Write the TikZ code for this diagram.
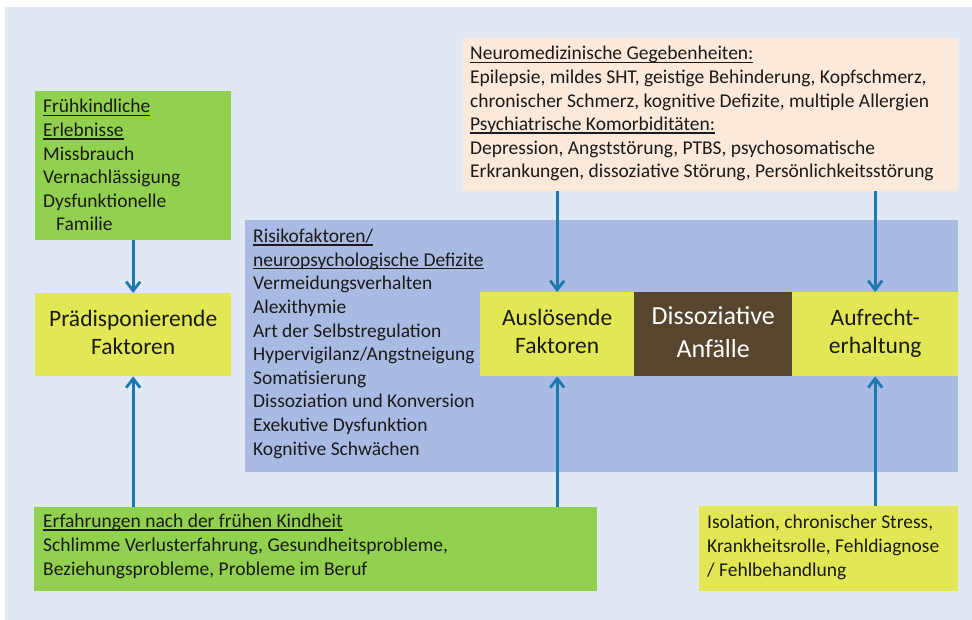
\documentclass[tikz,border=0pt]{standalone}
\usepackage{fontspec}
\setmainfont{Carlito}
\usetikzlibrary{arrows.meta}
\definecolor{bgblue}{HTML}{DFE8F3}
\definecolor{riskblue}{HTML}{AABBE3}
\definecolor{boxgreen}{HTML}{92D050}
\definecolor{boxyellow}{HTML}{E4E755}
\definecolor{boxpeach}{HTML}{FDE9DA}
\definecolor{boxbrown}{HTML}{57452D}
\definecolor{arrblue}{HTML}{1C7AB0}
\definecolor{txtgray}{HTML}{1A1A1A}
\newcommand{\uln}[1]{{\setbox0\hbox{#1}\rlap{\rule[-3.2pt]{\wd0}{1.6pt}}\box0}}
\tikzset{
	box/.style={inner sep=0pt, anchor=north west, text=txtgray},
	% anchored at the baseline of the last line
	txt/.style={inner sep=0pt, anchor=base west, align=left, text=txtgray, font=\fontsize{19.5}{23.6}\selectfont},
	big/.style={align=center, font=\fontsize{23.5}{28}\selectfont},
	arr/.style={draw=arrblue, line width=2.8pt, -{Straight Barb[length=9pt,width=14pt]}}
}

\begin{document}
\begin{tikzpicture}[x=1pt, y=-1pt]
		%%%%% START %%%%%
		\useasboundingbox (0,0) rectangle (972,620);
		\fill[bgblue] (5,7) rectangle (972,620);
		
		\node[box, fill=riskblue, minimum width=713pt, minimum height=252pt] (risk) at (245,220) {};
		\node[txt] (risktxt) at (253,455) {\uln{Risikofaktoren/}\\\uln{neuropsychologische Defizite}\\Vermeidungsverhalten\\Alexithymie\\Art der Selbstregulation\\Hypervigilanz/Angstneigung\\Somatisierung\\Dissoziation und Konversion\\Exekutive Dysfunktion\\Kognitive Schwächen};
		
		\node[box, fill=boxgreen, minimum width=196pt, minimum height=149pt] (frueh) at (35,91) {};
		\node[txt] (fruehtxt) at (43,231) {\uln{Frühkindliche}\\\uln{Erlebnisse}\\Missbrauch\\Vernachlässigung\\Dysfunktionelle\\\hspace*{13pt}Familie};
		
		\node[box, fill=boxpeach, minimum width=495pt, minimum height=153pt] (neuro) at (463,38) {};
		\node[txt] (neurotxt) at (470,178) {\uln{Neuromedizinische Gegebenheiten:}\\Epilepsie, mildes SHT, geistige Behinderung, Kopfschmerz,\\chronischer Schmerz, kognitive Defizite, multiple Allergien\\\uln{Psychiatrische Komorbiditäten:}\\Depression, Angststörung, PTBS, psychosomatische\\Erkrankungen, dissoziative Störung, Persönlichkeitsstörung};
		
		\node[box, big, fill=boxyellow, minimum width=196pt, minimum height=83pt] (praed) at (35,293) {Prädisponierende\strut\\Faktoren\strut};
		\node[box, big, fill=boxyellow, minimum width=154pt, minimum height=84pt] (ausl) at (480,292) {Auslösende\strut\\Faktoren\strut};
		\node[box, fill=boxbrown, minimum width=158pt, minimum height=84pt, text=white, align=center, font=\fontsize{26}{33}\selectfont] (diss) at (634,292) {Dissoziative\strut\\Anfälle\strut};
		\node[box, big, fill=boxyellow, minimum width=166pt, minimum height=84pt] (aufr) at (792,292) {Aufrecht-\strut\\erhaltung\strut};
		
		\node[box, fill=boxgreen, minimum width=563pt, minimum height=84pt] (erf) at (34,507) {};
		\node[txt] (erftxt) at (43,575) {\uln{Erfahrungen nach der frühen Kindheit}\\Schlimme Verlusterfahrung, Gesundheitsprobleme,\\Beziehungsprobleme, Probleme im Beruf};
		
		\node[box, fill=boxyellow, minimum width=259pt, minimum height=85pt] (isol) at (699,506) {};
		\node[txt] (isoltxt) at (707,576) {Isolation, chronischer Stress,\\Krankheitsrolle, Fehldiagnose\\/ Fehlbehandlung};
		
		% arrows
		\draw[arr] (frueh) -- (praed);
		\draw[arr] (praed.south |- erf.north) -- (praed.south);
		\draw[arr] (ausl.north |- neuro.south) -- (ausl.north);
		\draw[arr] (ausl.south |- erf.north) -- (ausl.south);
		\draw[arr] (aufr.north |- neuro.south) -- (aufr.north);
		\draw[arr] (aufr.south |- isol.north) -- (aufr.south);
		%%%%% END %%%%%
\end{tikzpicture}
\end{document}
